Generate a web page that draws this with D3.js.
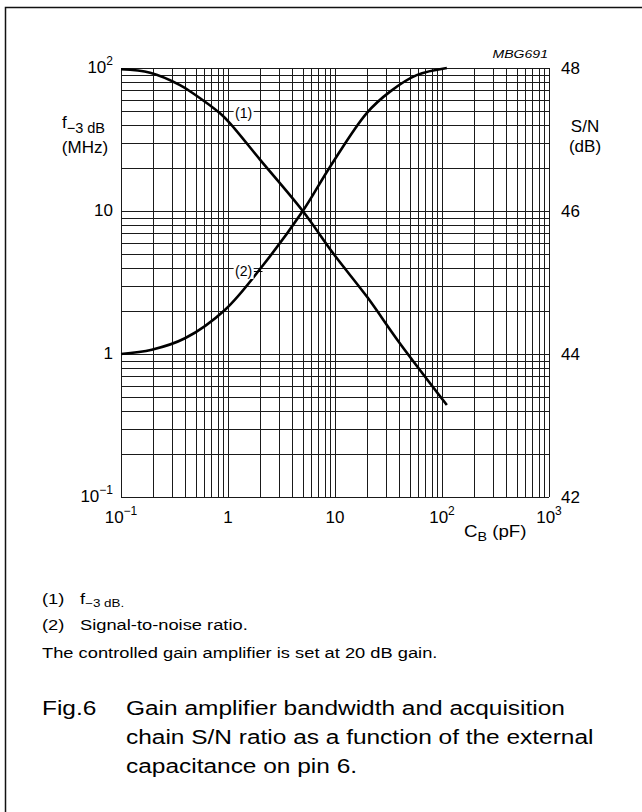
<!DOCTYPE html>
<html>
<head>
<meta charset="utf-8">
<script src="https://cdn.jsdelivr.net/npm/d3@7"></script>
<style>
  html, body { margin: 0; padding: 0; background: #fff; }
  svg { display: block; font-family: "Liberation Sans", Arial, Helvetica, sans-serif; }
</style>
</head>
<body>
<svg id="chart" width="642" height="812"></svg>
<script>
// ---- data ----
// curve (1): -3 dB bandwidth (MHz) vs C_B (pF)
const bwCap  = [0.1, 0.187, 0.356, 0.474, 0.842, 1.04, 2.0, 5.0, 9.6, 20, 40, 111];
const bwMHz  = [98, 92.7, 76, 66.3, 48.2, 41.2, 22.8, 10, 5.06, 2.5, 1.2, 0.44];
// curve (2): S/N (dB) vs C_B (pF)
const snCap  = [0.1, 0.194, 0.396, 0.94, 2.07, 5.0, 9.0, 19.8, 32.7, 58, 111];
const snDb   = [44.0, 44.06, 44.22, 44.62, 45.22, 46.0, 46.62, 47.37, 47.67, 47.9, 48.0];
// tick labels
const xTicks  = [0.1, 1, 10, 100, 1000];
const xLabels = [["10", "−1"], ["1", ""], ["10", ""], ["10", "2"], ["10", "3"]];
const yLTicks  = [0.1, 1, 10, 100];
const yLLabels = [["10", "−1"], ["1", ""], ["10", ""], ["10", "2"]];
const yRTicks  = [42, 44, 46, 48];
const notes = ["Signal-to-noise ratio.", "The controlled gain amplifier is set at 20 dB gain."];
const captionLines = ["Gain amplifier bandwidth and acquisition",
                      "chain S/N ratio as a function of the external",
                      "capacitance on pin 6."];

// ---- drawing ----
const svg = d3.select("#chart");
const L = 121, R = 549, T = 68, B = 497;
const x  = d3.scaleLog().domain([0.1, 1000]).range([L, R]);
const yL = d3.scaleLog().domain([0.1, 100]).range([B, T]);
const yR = d3.scaleLinear().domain([42, 48]).range([B, T]);

// outer frame
svg.append("path").attr("d", "M5.5,812 L5.5,7.5 L642,7.5")
  .attr("fill", "none").attr("stroke", "#111").attr("stroke-width", 1.5);

// grid
const grid = svg.append("g").attr("stroke", "#1a1a1a").attr("stroke-width", 1);
grid.selectAll("line.v").data(x.ticks()).join("line")
  .attr("x1", d => Math.round(x(d)) + 0.5).attr("x2", d => Math.round(x(d)) + 0.5)
  .attr("y1", T).attr("y2", B);
grid.selectAll("line.h").data(yL.ticks()).join("line")
  .attr("y1", d => Math.round(yL(d)) + 0.5).attr("y2", d => Math.round(yL(d)) + 0.5)
  .attr("x1", L).attr("x2", R);

// curves
const line1 = d3.line().x(d => x(d[0])).y(d => yL(d[1])).curve(d3.curveCatmullRom.alpha(0.5));
const line2 = d3.line().x(d => x(d[0])).y(d => yR(d[1])).curve(d3.curveCatmullRom.alpha(0.5));
svg.append("path").datum(d3.zip(bwCap, bwMHz)).attr("d", line1)
  .attr("fill", "none").attr("stroke", "#000").attr("stroke-width", 2.6);
svg.append("path").datum(d3.zip(snCap, snDb)).attr("d", line2)
  .attr("fill", "none").attr("stroke", "#000").attr("stroke-width", 2.6);

// curve labels
function curveLabel(cx, cy, txt) {
  svg.append("rect").attr("x", cx - 10).attr("y", cy - 8).attr("width", 20).attr("height", 16).attr("fill", "#fff");
  svg.append("text").attr("x", cx).attr("y", cy + 5).attr("text-anchor", "middle")
    .attr("font-size", 14).text(txt);
}
curveLabel(x(1.4), yL(50) + 1.5, "(1)");
svg.append("line").attr("x1", x(1.4) + 10).attr("x2", x(2.1)).attr("y1", 271.5).attr("y2", 271.5).attr("stroke", "#000");
curveLabel(x(1.4), 271, "(2)");

// text helper with horizontal stretch (the reference lettering is wide)
function wideText(g, xx, yy, sx, size) {
  return g.append("text").attr("transform", `translate(${xx},${yy}) scale(${sx},1)`)
    .attr("font-size", size);
}

// tick labels helper
function supLabel(g, xx, yy, parts, anchor) {
  const t = g.append("text").attr("x", xx).attr("y", yy).attr("text-anchor", anchor).attr("font-size", 17);
  t.append("tspan").text(parts[0]);
  if (parts[1]) t.append("tspan").attr("dy", -8).attr("font-size", 12).text(parts[1]);
}
const lab = svg.append("g").attr("fill", "#000");
xTicks.forEach((v, i) => supLabel(lab, x(v), 523, xLabels[i], "middle"));
yLTicks.forEach((v, i) => supLabel(lab, 113, yL(v) + 5, yLLabels[i], "end"));
yRTicks.forEach(v => lab.append("text").attr("x", 561).attr("y", yR(v) + 6).attr("font-size", 17).text(v));

// axis titles
const fT = lab.append("text").attr("x", 62).attr("y", 128).attr("font-size", 17);
fT.append("tspan").text("f");
fT.append("tspan").attr("dy", 5).attr("font-size", 14.5).text("−3 dB");
lab.append("text").attr("x", 85).attr("y", 153).attr("text-anchor", "middle").attr("font-size", 17).text("(MHz)");
lab.append("text").attr("x", 585).attr("y", 132).attr("text-anchor", "middle").attr("font-size", 17).text("S/N");
lab.append("text").attr("x", 585).attr("y", 152).attr("text-anchor", "middle").attr("font-size", 17).text("(dB)");
const cT = wideText(lab, 464, 537, 1.1, 17);
cT.append("tspan").text("C");
cT.append("tspan").attr("dy", 4).attr("font-size", 13).text("B");
cT.append("tspan").attr("dy", -4).text(" (pF)");
wideText(lab, 548, 58, 1.28, 11).attr("text-anchor", "end")
  .attr("font-style", "italic").text("MBG691");

// notes
const n = svg.append("g");
wideText(n, 42, 604, 1.22, 15).text("(1)");
const n1 = wideText(n, 80, 604, 1.22, 15);
n1.append("tspan").text("f");
n1.append("tspan").attr("dy", 3).attr("font-size", 11).text("−3 dB.");
wideText(n, 42, 630, 1.22, 15).text("(2)");
wideText(n, 80, 630, 1.22, 15).text(notes[0]);
wideText(n, 42, 658, 1.22, 15).text(notes[1]);

// caption
const c = svg.append("g");
wideText(c, 42, 715, 1.165, 21).text("Fig.6");
captionLines.forEach((s, i) => wideText(c, 126, 715 + i * 29, 1.165, 21).text(s));
</script>
</body>
</html>
